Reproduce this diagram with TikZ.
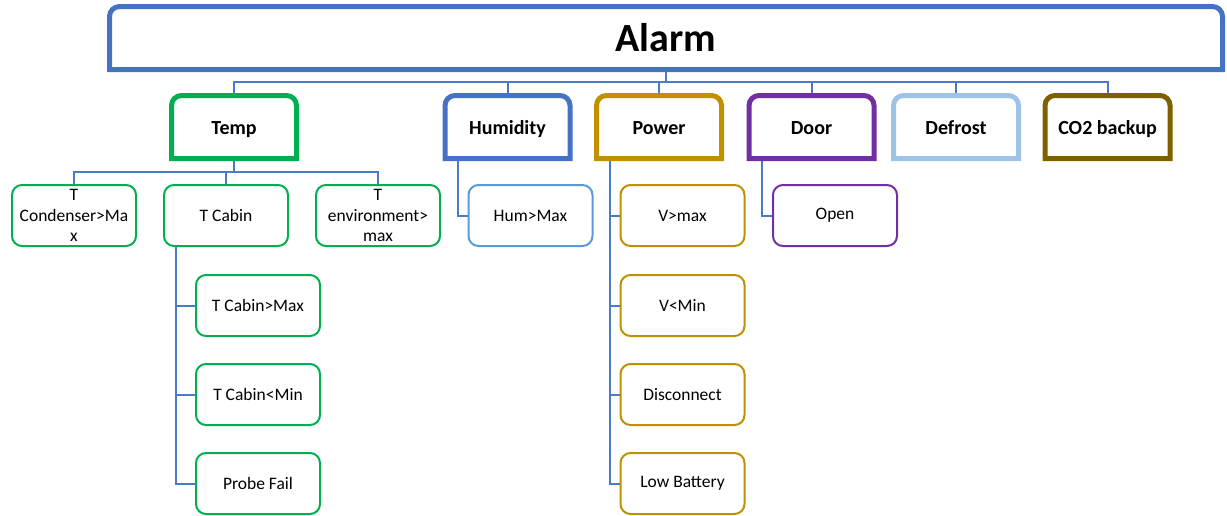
\documentclass[tikz,border=0pt]{standalone}
\usepackage{fontspec}
\setmainfont{Carlito}
\usepackage{tikz}
\usetikzlibrary{positioning}

\definecolor{alarmblue}{HTML}{4472C4}
\definecolor{linkblue}{HTML}{4A7BC8}
\definecolor{tempgreen}{HTML}{00B050}
\definecolor{humblue}{HTML}{4472C4}
\definecolor{humleaf}{HTML}{5B9BD5}
\definecolor{powergold}{HTML}{BF9000}
\definecolor{doorpurple}{HTML}{7030A0}
\definecolor{defrostblue}{HTML}{9DC3E6}
\definecolor{cobrown}{HTML}{7F6000}

% frame with rounded top corners and square bottom corners
\newcommand{\catframe}[2]{%
  \draw[line width=5pt, #2] (#1.south west) -- ([yshift=-10pt]#1.north west)
    arc[start angle=180, end angle=90, radius=10pt] -- ([xshift=-10pt]#1.north east)
    arc[start angle=90, end angle=0, radius=10pt] -- (#1.south east) -- cycle;}

\tikzset{
  rootbox/.style={inner sep=0pt, outer sep=0pt, minimum width=1113pt, minimum height=63pt,
    font=\bfseries\fontsize{40}{44}\selectfont},
  catbox/.style={inner sep=0pt, outer sep=0pt, minimum width=125pt, minimum height=63pt,
    text height=15pt, text depth=0pt, font=\bfseries\fontsize{20}{24}\selectfont},
  leaf/.style={draw, line width=2pt, rounded corners=10pt, fill=white, minimum width=124pt,
    minimum height=61pt, inner sep=1pt, align=center, font=\fontsize{17.5}{20.5}\selectfont},
  link/.style={line width=2pt, linkblue}
}

\begin{document}
\begin{tikzpicture}[x=1pt, y=-1pt]
    \useasboundingbox (0,0) rectangle (1227,515);

    % top level
    \node[rootbox] (alarm) at (666,38) {Alarm};

    % categories
    \node[catbox] (temp)     at (234,127)    {Temp};
    \node[catbox] (humidity) at (507.5,127)  {Humidity};
    \node[catbox] (power)    at (659,127)    {Power};
    \node[catbox] (door)     at (811.5,127)  {Door};
    \node[catbox] (defrost)  at (956,127)    {Defrost};
    \node[catbox] (cobackup) at (1107.5,127) {CO2 backup};

    % temp leaves
    \node[leaf, draw=tempgreen] (tcond) at (74,215.5)  {T\\Condenser>Ma\\x};
    \node[leaf, draw=tempgreen] (tcab)  at (226,215.5) {T Cabin};
    \node[leaf, draw=tempgreen] (tenv)  at (378,215.5) {T\\environment>\\max};
    \node[leaf, draw=tempgreen] (tcabmax) at (258,305.5) {T Cabin>Max};
    \node[leaf, draw=tempgreen] (tcabmin) at (258,394.5) {T Cabin<Min};
    \node[leaf, draw=tempgreen] (probe)   at (258,483.5) {Probe Fail};

    % humidity, power, door leaves
    \node[leaf, draw=humleaf] (hummax) at (530.5,215.5) {Hum>Max};
    \node[leaf, draw=powergold] (vmax)    at (682.5,215.5) {V>max};
    \node[leaf, draw=powergold] (vmin)    at (682.5,305.5) {V<Min};
    \node[leaf, draw=powergold] (discon)  at (682.5,394.5) {Disconnect};
    \node[leaf, draw=powergold] (lowbatt) at (682.5,483.5) {Low Battery};
    \node[leaf, draw=doorpurple] (open) at (835,215.5) {Open};

    % connectors
    \coordinate (topbus) at (666,82);
    \coordinate (tempbus) at (234,172);
    \draw[link] (alarm.south) -- (topbus);
    \foreach \c in {temp,humidity,power,door,defrost,cobackup}
        \draw[link] (topbus) -| (\c.north);
    \draw[link] (temp.south) -- (tempbus);
    \foreach \c in {tcond,tcab,tenv}
        \draw[link] (tempbus) -| (\c.north);
    \foreach \c in {tcabmax,tcabmin,probe}
        \draw[link] ([xshift=13pt]tcab.south west) |- (\c.west);
    \draw[link] ([xshift=13pt]humidity.south west) |- (hummax.west);
    \foreach \c in {vmax,vmin,discon,lowbatt}
        \draw[link] ([xshift=13pt]power.south west) |- (\c.west);
    \draw[link] ([xshift=13pt]door.south west) |- (open.west);

    % frames
    \catframe{alarm}{alarmblue}
    \catframe{temp}{tempgreen}
    \catframe{humidity}{humblue}
    \catframe{power}{powergold}
    \catframe{door}{doorpurple}
    \catframe{defrost}{defrostblue}
    \catframe{cobackup}{cobrown}
\end{tikzpicture}
\end{document}
